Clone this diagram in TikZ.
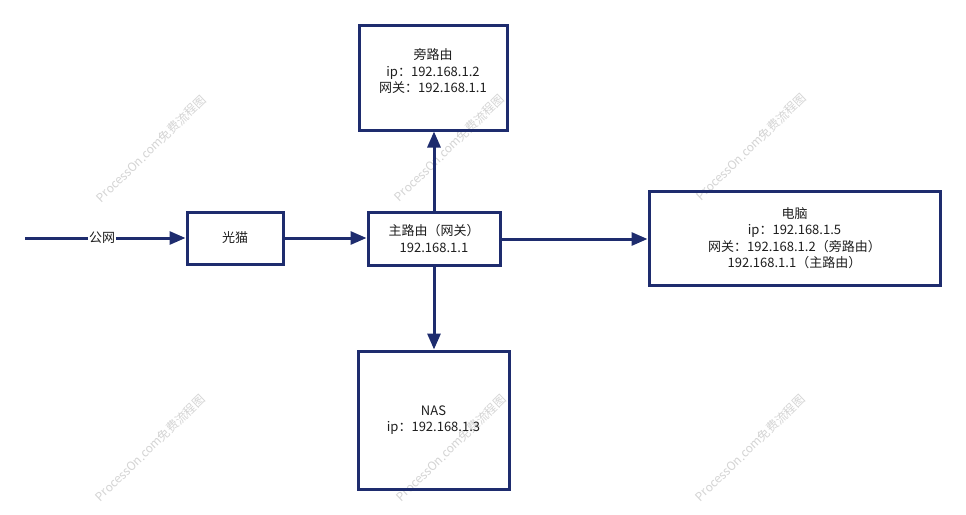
\documentclass[tikz,border=0pt]{standalone}
\usepackage{fontspec}
\setmainfont{Noto Sans CJK SC}
\usetikzlibrary{arrows.meta}
\definecolor{navy}{RGB}{30,44,110}
\definecolor{wm}{RGB}{212,212,212}
\definecolor{txt}{RGB}{30,30,30}
\begin{document}
\begin{tikzpicture}[x=1pt,y=-1pt,
  box/.style={draw=navy,line width=3pt,inner sep=0pt,align=center,
    font=\fontsize{13}{16.5}\selectfont,text=txt},
  lbl/.style={align=center,font=\fontsize{13}{16.5}\selectfont,text=txt,inner sep=0pt},
  conn/.style={draw=navy,line width=3pt,-{Triangle[length=16pt,width=13pt]}},
  wmark/.style={text=wm,rotate=44,inner sep=0pt,font=\fontsize{12}{12}\selectfont}]
\useasboundingbox[fill=white] (0,0) rectangle (966,514);

% watermarks
\node[wmark] (w1) at (151,149) {ProcessOn.com免费流程图};
\node[wmark] (w2) at (449,148) {ProcessOn.com免费流程图};
\node[wmark] (w3) at (751,147) {ProcessOn.com免费流程图};
\node[wmark] (w4) at (150,448) {ProcessOn.com免费流程图};
\node[wmark] (w5) at (451,448) {ProcessOn.com免费流程图};
\node[wmark] (w6) at (750,448) {ProcessOn.com免费流程图};

% boxes
\node[box,minimum width=148pt,minimum height=105pt] (bypass) at (433,77.5) {};
\node[lbl] (bypasstxt) at (433,71) {旁路由\\ip：192.168.1.2\\网关：192.168.1.1};
\node[box,minimum width=96pt,minimum height=52pt] (modem) at (235,238) {光猫};
\node[box,minimum width=132pt,minimum height=53pt] (main) at (434,238.5) {主路由（网关）\\192.168.1.1};
\node[box,minimum width=291pt,minimum height=94pt] (pc) at (794.5,238) {电脑\\ip：192.168.1.5\\网关：192.168.1.2（旁路由）\\192.168.1.1（主路由）};
\node[box,minimum width=151pt,minimum height=138pt] (nas) at (433.5,420) {NAS\\ip：192.168.1.3};

% connectors
\coordinate (wan) at (25,238);
\draw[conn] (wan) -- node[pos=0.48,fill=white,inner sep=1pt,text=txt,font=\fontsize{13}{14}\selectfont] (wanlbl) {公网} (modem.west);
\draw[conn] (modem.east) -- (modem.east -| main.west);
\draw[conn] (main.east |- 0,239) -- (pc.west |- 0,239);
\draw[conn] (main.north) -- (main.north |- bypass.south);
\draw[conn] (main.south) -- (main.south |- nas.north);
\end{tikzpicture}
\end{document}
